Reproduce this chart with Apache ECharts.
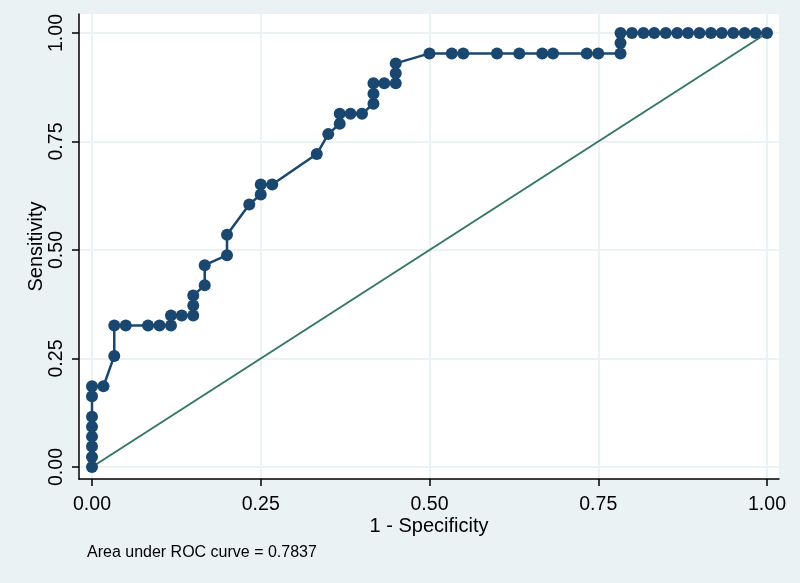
<!DOCTYPE html>
<html>
<head>
<meta charset="utf-8">
<title>ROC curve</title>
<script src="https://cdn.jsdelivr.net/npm/echarts@6/dist/echarts.min.js"></script>
<style>
  html, body { margin: 0; padding: 0; background: #eaf2f3; }
  #chart { width: 800px; height: 583px; }
</style>
</head>
<body>
<div id="chart"></div>
<script>
// 1 - specificity of each cutoff
var fpr = [
  0, 0, 0, 0, 0, 0, 0, 0,
  0.017, 0.033, 0.033, 0.050, 0.083, 0.100, 0.117, 0.117,
  0.133, 0.150, 0.150, 0.150, 0.167, 0.167, 0.200, 0.200,
  0.233, 0.250, 0.250, 0.267, 0.333, 0.350, 0.367, 0.367,
  0.383, 0.400, 0.417, 0.417, 0.417, 0.433, 0.450, 0.450,
  0.450, 0.500, 0.533, 0.550, 0.600, 0.633, 0.667, 0.683,
  0.733, 0.750, 0.783, 0.783, 0.783, 0.800, 0.817, 0.833,
  0.850, 0.867, 0.883, 0.900, 0.917, 0.933, 0.950, 0.967,
  0.983, 1.000
];
// sensitivity of each cutoff
var sens = [
  0, 0.023, 0.047, 0.070, 0.093, 0.116, 0.163, 0.186,
  0.186, 0.256, 0.326, 0.326, 0.326, 0.326, 0.326, 0.349,
  0.349, 0.349, 0.372, 0.395, 0.419, 0.465, 0.488, 0.535,
  0.605, 0.628, 0.651, 0.651, 0.721, 0.767, 0.791, 0.814,
  0.814, 0.814, 0.837, 0.860, 0.884, 0.884, 0.884, 0.907,
  0.930, 0.953, 0.953, 0.953, 0.953, 0.953, 0.953, 0.953,
  0.953, 0.953, 0.953, 0.977, 1.000, 1.000, 1.000, 1.000,
  1.000, 1.000, 1.000, 1.000, 1.000, 1.000, 1.000, 1.000,
  1.000, 1.000
];
var refX = [0, 1];
var refY = [0, 1];
var tickValues = [0, 0.25, 0.5, 0.75, 1];
var aucText = "Area under ROC curve = 0.7837";

var font = "'Liberation Sans', Arial, Helvetica, sans-serif";
var chart = echarts.init(document.getElementById("chart"));

var rocData = fpr.map(function (x, i) { return [x, sens[i]]; });
var refData = refX.map(function (x, i) { return [x, refY[i]]; });

var option = {
  backgroundColor: "#eaf2f3",
  animation: false,
  title: {
    text: aucText,
    left: 82,
    top: 540,
    textStyle: { fontFamily: font, fontSize: 16, fontWeight: "normal", color: "#000" }
  },
  grid: {
    left: 79, right: 21, top: 14, bottom: 104,
    show: true, backgroundColor: "#fff", borderWidth: 0
  },
  xAxis: {
    type: "value",
    min: -13 / 675,
    max: 1 + 12 / 675,
    name: "1 - Specificity",
    nameLocation: "middle",
    nameGap: 37,
    nameMoveOverlap: false,
    nameTextStyle: { fontFamily: font, fontSize: 20, color: "#000" },
    axisLine: { show: true, onZero: false, lineStyle: { color: "#000", width: 1.5 } },
    axisTick: { show: true, length: 7, customValues: tickValues, lineStyle: { color: "#000", width: 1.5 } },
    axisLabel: {
      customValues: tickValues, margin: 16,
      fontFamily: font, fontSize: 19.5, color: "#000",
      formatter: function (v) { return v.toFixed(2); }
    },
    splitLine: { show: true, lineStyle: { color: "#eaf2f3", width: 2 } }
  },
  yAxis: {
    type: "value",
    min: -12 / 434,
    max: 1 + 19 / 434,
    name: "Sensitivity",
    nameLocation: "middle",
    nameGap: 33,
    nameMoveOverlap: false,
    nameTextStyle: { fontFamily: font, fontSize: 20, color: "#000" },
    axisLine: { show: true, onZero: false, lineStyle: { color: "#000", width: 1.5 } },
    axisTick: { show: true, length: 7, customValues: tickValues, lineStyle: { color: "#000", width: 1.5 } },
    axisLabel: {
      customValues: tickValues, margin: 12, rotate: 90,
      fontFamily: font, fontSize: 19.5, color: "#000",
      formatter: function (v) { return v.toFixed(2); }
    },
    splitLine: { show: true, lineStyle: { color: "#eaf2f3", width: 2 } }
  },
  series: [
    {
      type: "line",
      data: refData,
      showSymbol: false,
      lineStyle: { color: "#357767", width: 2 },
      z: 1
    },
    {
      type: "line",
      data: rocData,
      symbol: "circle",
      symbolSize: 12,
      itemStyle: { color: "#1a476f" },
      lineStyle: { color: "#1a476f", width: 2.5 },
      z: 2
    }
  ]
};

chart.setOption(option);
</script>
</body>
</html>
